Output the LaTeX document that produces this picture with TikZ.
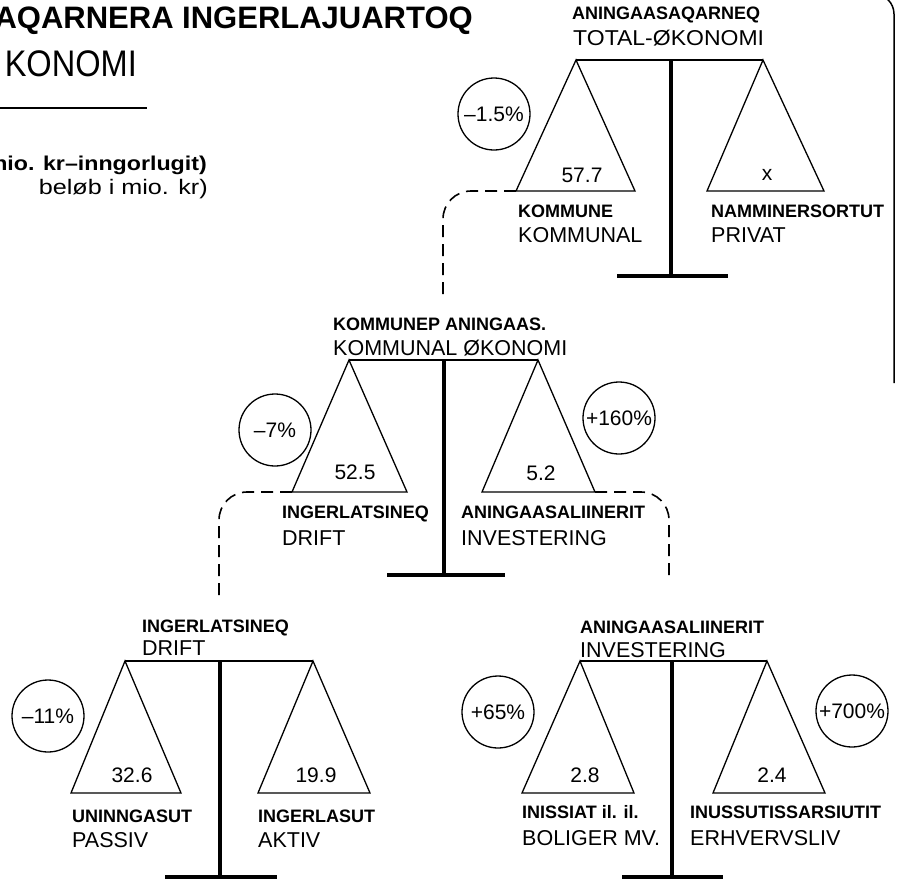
\documentclass[tikz,border=0pt]{standalone}
\usepackage{fontspec}
\setmainfont{Liberation Sans}
\begin{document}
\begin{tikzpicture}[x=1pt,y=-1pt,
  tri/.style={line width=1.3pt, line join=miter},
  beam/.style={line width=2.2pt},
  post/.style={line width=4.5pt},
  foot/.style={line width=4pt},
  pct/.style={circle, draw, line width=1.3pt, minimum size=72pt, inner sep=0pt, font=\fontsize{21}{21}\selectfont},
  blab/.style={anchor=base west, inner sep=0pt, font=\bfseries\fontsize{18}{18}\selectfont},
  rlab/.style={anchor=base west, inner sep=0pt, font=\fontsize{21.5}{21.5}\selectfont},
  num/.style={anchor=base, inner sep=0pt, font=\fontsize{21}{21}\selectfont},
  conn/.style={line width=1.6pt, dash pattern=on 12pt off 7pt, rounded corners=28pt}]
\useasboundingbox (0,0) rectangle (897,879);
\clip (0,0) rectangle (897,879);

% ---------- heading (cut at left edge) ----------
\node[anchor=base east, inner sep=0pt, font=\bfseries\fontsize{31}{31}\selectfont] (title) at (473,28) {AQARNERA INGERLAJUARTOQ};
\node[anchor=base east, inner sep=0pt, xscale=0.88, font=\fontsize{37}{37}\selectfont] (sub) at (137,76) {KONOMI};
\coordinate (ulA) at (0,108); \coordinate (ulB) at (147,108);
\draw[line width=1.5pt] (ulA) -- (ulB);
\node[anchor=base east, inner sep=0pt, xscale=1.16, font=\bfseries\fontsize{20}{20}\selectfont] (unit1) at (207,170) {nio. kr–inngorlugit)};
\node[anchor=base east, inner sep=0pt, xscale=1.2, font=\fontsize{21}{21}\selectfont] (unit2) at (208,194) {beløb i mio. kr)};

% ---------- right frame ----------
\coordinate (frA) at (850,-6); \coordinate (frB) at (894,-6); \coordinate (frC) at (894,383);
\draw[line width=1.5pt, rounded corners=20pt] (frA) -- (frB) -- (frC);

% ---------- scale 1 : total ----------
\coordinate (a1L) at (576,60);  \coordinate (a1R) at (763,60);
\coordinate (b1Ll) at (516,191); \coordinate (b1Lr) at (635,191);
\coordinate (b1Rl) at (707,191); \coordinate (b1Rr) at (824,191);
\coordinate (t1) at (671,60); \coordinate (f1) at (671,276);
\coordinate (f1l) at (617,276); \coordinate (f1r) at (728,276);
\draw[beam] (a1L) -- (a1R);
\draw[tri] (a1L) -- (b1Ll) -- (b1Lr) -- cycle;
\draw[tri] (a1R) -- (b1Rl) -- (b1Rr) -- cycle;
\draw[post] (t1) -- (f1);
\draw[foot] (f1l) -- (f1r);
\node[blab] (h1a) at (572,19) {ANINGAASAQARNEQ};
\node[rlab, xscale=1.07] (h1b) at (573,45) {TOTAL-ØKONOMI};
\node[num] (n1L) at (582,182) {57.7};
\node[num] (n1R) at (767,180) {x};
\node[blab] (l1a) at (518,217) {KOMMUNE};
\node[rlab] (l1b) at (518,242) {KOMMUNAL};
\node[blab] (r1a) at (711,217) {NAMMINERSORTUT};
\node[rlab] (r1b) at (711,242) {PRIVAT};
\node[pct] (p1) at (494,114) {–1.5\%};

% ---------- scale 2 : kommunal ----------
\coordinate (a2L) at (349,360);  \coordinate (a2R) at (538,360);
\coordinate (b2Ll) at (292,492); \coordinate (b2Lr) at (407,492);
\coordinate (b2Rl) at (482,492); \coordinate (b2Rr) at (595,492);
\coordinate (t2) at (444,360); \coordinate (f2) at (444,575);
\coordinate (f2l) at (387,575); \coordinate (f2r) at (505,575);
\draw[beam] (a2L) -- (a2R);
\draw[tri] (a2L) -- (b2Ll) -- (b2Lr) -- cycle;
\draw[tri] (a2R) -- (b2Rl) -- (b2Rr) -- cycle;
\draw[post] (t2) -- (f2);
\draw[foot] (f2l) -- (f2r);
\node[blab] (h2a) at (333,330) {KOMMUNEP ANINGAAS.};
\node[rlab] (h2b) at (333,355) {KOMMUNAL ØKONOMI};
\node[num] (n2L) at (355,479) {52.5};
\node[num] (n2R) at (541,480) {5.2};
\node[blab] (l2a) at (282,518) {INGERLATSINEQ};
\node[rlab] (l2b) at (282,545) {DRIFT};
\node[blab] (r2a) at (461,518) {ANINGAASALIINERIT};
\node[rlab] (r2b) at (461,545) {INVESTERING};
\node[pct] (p2L) at (275,430) {–7\%};
\node[pct] (p2R) at (619,418) {+160\%};

% ---------- scale 3 : drift ----------
\coordinate (a3L) at (125,661);  \coordinate (a3R) at (313,661);
\coordinate (b3Ll) at (71,793); \coordinate (b3Lr) at (181,793);
\coordinate (b3Rl) at (258,793); \coordinate (b3Rr) at (370,793);
\coordinate (t3) at (220,661); \coordinate (f3) at (220,877);
\coordinate (f3l) at (165,877); \coordinate (f3r) at (277,877);
\draw[beam] (a3L) -- (a3R);
\draw[tri] (a3L) -- (b3Ll) -- (b3Lr) -- cycle;
\draw[tri] (a3R) -- (b3Rl) -- (b3Rr) -- cycle;
\draw[post] (t3) -- (f3);
\draw[foot] (f3l) -- (f3r);
\node[blab] (h3a) at (142,632) {INGERLATSINEQ};
\node[rlab] (h3b) at (142,655) {DRIFT};
\node[num] (n3L) at (132,782) {32.6};
\node[num] (n3R) at (316,782) {19.9};
\node[blab] (l3a) at (72,822) {UNINNGASUT};
\node[rlab] (l3b) at (72,847) {PASSIV};
\node[blab] (r3a) at (258,822) {INGERLASUT};
\node[rlab] (r3b) at (258,847) {AKTIV};
\node[pct] (p3) at (48,716) {–11\%};

% ---------- scale 4 : investering ----------
\coordinate (a4L) at (580,661);  \coordinate (a4R) at (767,661);
\coordinate (b4Ll) at (522,793); \coordinate (b4Lr) at (634,793);
\coordinate (b4Rl) at (713,793); \coordinate (b4Rr) at (825,793);
\coordinate (t4) at (672,661); \coordinate (f4) at (672,877);
\coordinate (f4l) at (622,877); \coordinate (f4r) at (723,877);
\draw[beam] (a4L) -- (a4R);
\draw[tri] (a4L) -- (b4Ll) -- (b4Lr) -- cycle;
\draw[tri] (a4R) -- (b4Rl) -- (b4Rr) -- cycle;
\draw[post] (t4) -- (f4);
\draw[foot] (f4l) -- (f4r);
\node[blab] (h4a) at (580,633) {ANINGAASALIINERIT};
\node[rlab] (h4b) at (580,657) {INVESTERING};
\node[num] (n4L) at (585,782) {2.8};
\node[num] (n4R) at (772,782) {2.4};
\node[blab] (l4a) at (522,818) {INISSIAT il. il.};
\node[rlab] (l4b) at (522,845) {BOLIGER MV.};
\node[blab] (r4a) at (690,818) {INUSSUTISSARSIUTIT};
\node[rlab] (r4b) at (690,845) {ERHVERVSLIV};
\node[pct] (p4L) at (498,712) {+65\%};
\node[pct] (p4R) at (852,711) {+700\%};

% ---------- dashed links ----------
\coordinate (c1e) at (443,297);
\coordinate (c2e) at (219,598);
\coordinate (c3e) at (669,578);
\draw[conn] (b1Ll) -| (c1e);
\draw[conn] (b2Ll) -| (c2e);
\draw[conn] (b2Rr) -| (c3e);
\end{tikzpicture}
\end{document}
